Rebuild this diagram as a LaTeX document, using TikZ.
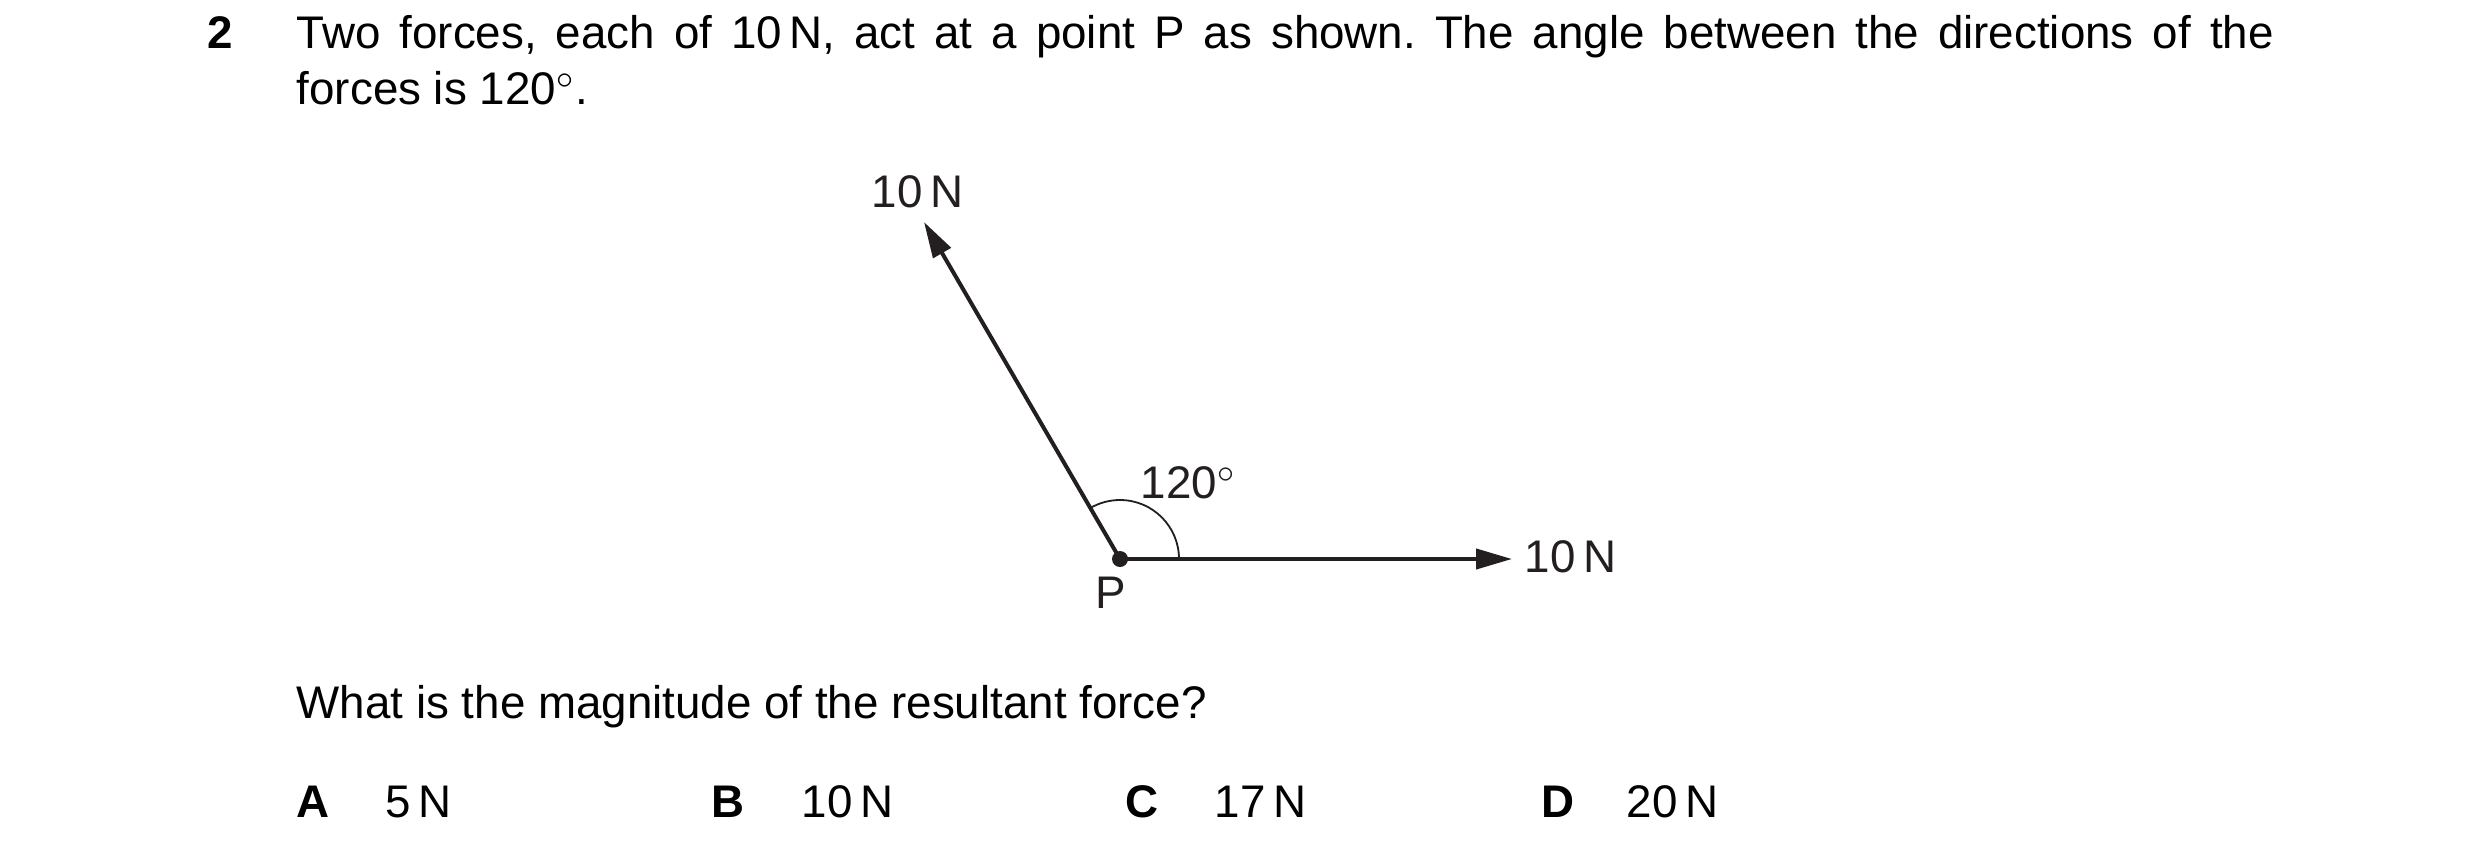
\documentclass[tikz,border=0pt]{standalone}
\usepackage{fontspec}
\setmainfont{Liberation Sans}
\usetikzlibrary{arrows.meta}
\definecolor{ink}{RGB}{35,31,32}
\frenchspacing

\begin{document}
\begin{tikzpicture}[x=0.25pt,y=0.25pt,yscale=-1,xscale=1,
    font=\fontsize{11.43pt}{13.7pt}\selectfont,
    txt/.style={anchor=base west,inner sep=0pt},
    bold/.style={txt,font=\fontsize{11.43pt}{13.7pt}\selectfont\bfseries},
    force/.style={color=ink,line width=1pt,-{Triangle[length=9pt,width=5pt]}},
    dot/.style={circle,fill=ink,inner sep=0pt,minimum size=4pt},
    anglemark/.style={color=ink,line width=0.45pt}]
  \useasboundingbox (0,0) rectangle (2480,857);

  % question stem
  \node[bold] (qnum) at (207,49) {2};
  \node[txt] (stem1) at (296,49) {\makebox[494.25pt][s]{Two forces, each of 10\,N, act at a point P as shown. The angle between the directions of the}};
  \node[txt] (stem2) at (296,104) {forces is 120$^{\circ}$.};

  % forces at P
  \node[dot] (P) at (1120,559) {};
  \coordinate (tipA) at (924,222);
  \coordinate (tipB) at (1512,559);
  \draw[force] (P.center) -- (tipA);
  \draw[force] (P.center) -- (tipB);
  \draw[anglemark] ([xshift=14.75pt]P.center) arc[start angle=0,end angle=-120,radius=14.75pt];

  % labels
  \node[txt,color=ink] (labA) at (871,207) {10\,N};
  \node[txt,color=ink] (labB) at (1524,572) {10\,N};
  \node[txt,color=ink] (ang) at (1140,498) {120$^{\circ}$};
  \node[txt,color=ink] (labP) at (1095,608) {P};

  % question and options
  \node[txt] (ask) at (296,718) {What is the magnitude of the resultant force?};
  \node[bold] (optA) at (296,817) {A};
  \node[txt] (valA) at (385,817) {5\,N};
  \node[bold] (optB) at (711,817) {B};
  \node[txt] (valB) at (801,817) {10\,N};
  \node[bold] (optC) at (1125,817) {C};
  \node[txt] (valC) at (1214,817) {17\,N};
  \node[bold] (optD) at (1541,817) {D};
  \node[txt] (valD) at (1626,817) {20\,N};
\end{tikzpicture}
\end{document}
